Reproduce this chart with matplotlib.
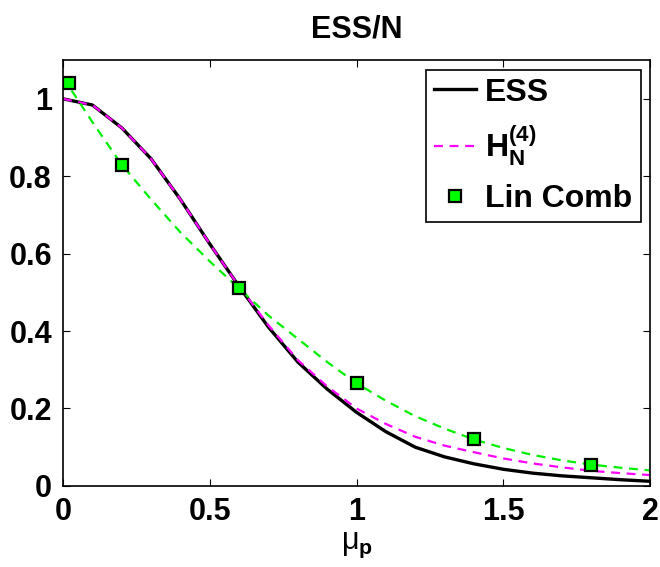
import numpy as np
import matplotlib
matplotlib.use("Agg")
import matplotlib.pyplot as plt
import matplotlib as mpl

mpl.rcParams['font.family'] = ['Liberation Sans', 'DejaVu Sans']
mpl.rcParams['font.weight'] = 'bold'
mpl.rcParams['mathtext.fontset'] = 'custom'
mpl.rcParams['mathtext.rm'] = 'Liberation Sans:regular'
mpl.rcParams['mathtext.bf'] = 'Liberation Sans:bold'
mpl.rcParams['mathtext.it'] = 'Liberation Sans:italic'

# curves sampled every 0.1 in mu_p
mu = [0.0, 0.1, 0.2, 0.3, 0.4, 0.5, 0.6, 0.7, 0.8, 0.9, 1.0,
      1.1, 1.2, 1.3, 1.4, 1.5, 1.6, 1.7, 1.8, 1.9, 2.0]
ess = [1.0, 0.984, 0.925, 0.845, 0.74, 0.625, 0.515, 0.41, 0.32, 0.25, 0.19,
       0.14, 0.10, 0.075, 0.057, 0.043, 0.033, 0.026, 0.021, 0.016, 0.012]
h4 = [1.0, 0.984, 0.925, 0.845, 0.74, 0.625, 0.515, 0.415, 0.325, 0.257, 0.20,
      0.16, 0.127, 0.104, 0.087, 0.071, 0.058, 0.048, 0.039, 0.033, 0.028]
lin_fit = [1.055, 0.94, 0.83, 0.74, 0.655, 0.58, 0.51, 0.44, 0.38, 0.32, 0.265,
           0.22, 0.18, 0.148, 0.12, 0.098, 0.08, 0.066, 0.055, 0.047, 0.04]

# linear combination points
lin_x = [0.02, 0.2, 0.6, 1.0, 1.4, 1.8]
lin_y = [1.04, 0.83, 0.51, 0.265, 0.12, 0.055]

fig = plt.figure(figsize=(6.6, 5.67), dpi=100)
ax = fig.add_axes([0.0955, 0.143, 0.8895, 0.751])

l1, = ax.plot(mu, ess, color='black', linewidth=2.4, label='ESS')
l2, = ax.plot(mu, h4, color='#ff00ff', linewidth=1.6, linestyle=(0, (4, 3)),
              label=r'$\mathbf{H_N^{(4)}}$')
ax.plot(mu, lin_fit, color='#00ee00', linewidth=1.6, linestyle=(0, (4, 3)))
l3, = ax.plot(lin_x, lin_y, linestyle='none', marker='s', markersize=8,
              markerfacecolor='#00ff00', markeredgecolor='black',
              markeredgewidth=1.6, label='Lin Comb')

ax.set_xlim(0, 2)
ax.set_ylim(0, 1.1)
ax.set_xticks([0, 0.5, 1, 1.5, 2])
ax.set_xticklabels(['0', '0.5', '1', '1.5', '2'])
ax.set_yticks([0, 0.2, 0.4, 0.6, 0.8, 1])
ax.set_yticklabels(['0', '0.2', '0.4', '0.6', '0.8', '1'])
ax.tick_params(direction='in', top=True, right=True, labelsize=22, length=5, pad=8)
for s in ax.spines.values():
    s.set_linewidth(1.2)

ax.set_title('ESS/N', fontsize=22, fontweight='bold', pad=16)
ax.set_xlabel(r'$\mathrm{\mu}_\mathbf{p}$', fontsize=22, labelpad=2)

leg = ax.legend(handles=[l1, l2, l3], loc='upper right', fontsize=23,
                fancybox=False, framealpha=1, edgecolor='black',
                borderaxespad=0.3, handlelength=1.3, handletextpad=0.3,
                labelspacing=0.5, borderpad=0.25)
leg.get_frame().set_linewidth(1.2)

fig.savefig('out.png', dpi=100)
